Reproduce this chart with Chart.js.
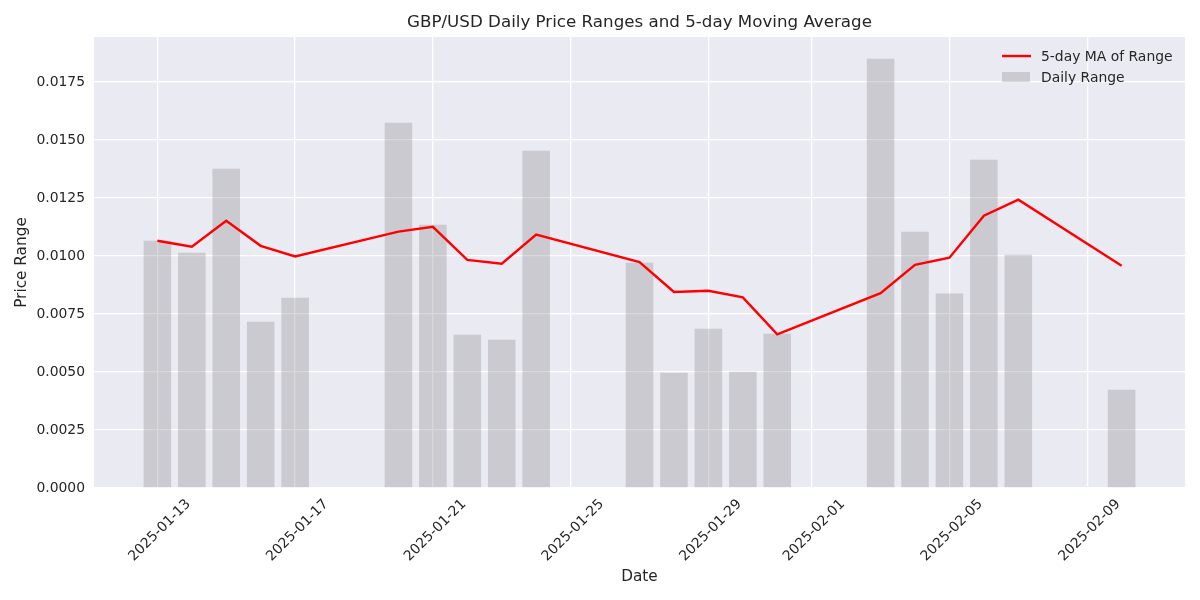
<!DOCTYPE html>
<html>
<head>
<meta charset="utf-8">
<script src="https://cdn.jsdelivr.net/npm/chart.js@4/dist/chart.umd.min.js"></script>
<style>
  body { margin: 0; background: #fff; }
  #wrap { width: 1200px; height: 600px; }
</style>
</head>
<body>
<div id="wrap"><canvas id="rangeChart" width="1200" height="600"></canvas></div>
<script>
// trading days shown in the chart
let dates = ['2025-01-13', '2025-01-14', '2025-01-15', '2025-01-16', '2025-01-17',
  '2025-01-20', '2025-01-21', '2025-01-22', '2025-01-23', '2025-01-24',
  '2025-01-27', '2025-01-28', '2025-01-29', '2025-01-30', '2025-01-31',
  '2025-02-03', '2025-02-04', '2025-02-05', '2025-02-06', '2025-02-07',
  '2025-02-10'];

let dailyRange = [0.01066, 0.01014, 0.01376, 0.00717, 0.00820,
  0.01575, 0.01135, 0.00661, 0.00639, 0.01454,
  0.00971, 0.00497, 0.00687, 0.00501, 0.00665,
  0.01850, 0.01105, 0.00838, 0.01415, 0.01006,
  0.00424];

let maRange = [0.01066, 0.01040, 0.01152, 0.01044, 0.00998,
  0.01105, 0.01126, 0.00983, 0.00967, 0.01092,
  0.00974, 0.00845, 0.00850, 0.00822, 0.00662,
  0.00840, 0.00962, 0.00993, 0.01174, 0.01243,
  0.00958];

let xTickLabels = ['2025-01-13', '2025-01-17', '2025-01-21', '2025-01-25',
  '2025-01-29', '2025-02-01', '2025-02-05', '2025-02-09'];
let yTicks = [0, 0.0025, 0.005, 0.0075, 0.01, 0.0125, 0.015, 0.0175];

const textColor = '#262626';
const DAY = 86400000;
const base = Date.parse(dates[0]);
function dayOf(d) {
  return Math.round((Date.parse(d) - base) / DAY);
}
let xTickValues = xTickLabels.map(dayOf);

Chart.defaults.font.family = "'DejaVu Sans', sans-serif";
Chart.defaults.color = textColor;

const plotBg = {
  id: 'plotBg',
  beforeDraw(chart) {
    const {ctx, chartArea: a} = chart;
    ctx.save();
    ctx.fillStyle = '#eaeaf2';
    ctx.fillRect(a.left, a.top, a.right - a.left, a.bottom - a.top);
    ctx.restore();
  }
};

// matplotlib style legend, top right, no frame
const cornerLegend = {
  id: 'cornerLegend',
  afterDraw(chart) {
    const {ctx, chartArea: a} = chart;
    const ds = chart.data.datasets;
    const x0 = a.right - 183;
    let y = a.top + 19;
    ctx.save();
    ctx.font = '13.9px "DejaVu Sans"';
    ctx.textBaseline = 'middle';
    ctx.fillStyle = textColor;
    ds.forEach(d => {
      if (d.type === 'line') {
        ctx.strokeStyle = d.borderColor;
        ctx.lineWidth = d.borderWidth;
        ctx.beginPath();
        ctx.moveTo(x0, y);
        ctx.lineTo(x0 + 29, y);
        ctx.stroke();
      } else {
        ctx.fillStyle = d.backgroundColor;
        ctx.fillRect(x0, y - 5, 28, 10);
      }
      ctx.fillStyle = textColor;
      ctx.fillText(d.label, x0 + 39, y + 1);
      y += 21;
    });
    ctx.restore();
  }
};

let chart = new Chart(document.getElementById('rangeChart'), {
  type: 'bar',
  data: {
    datasets: [{
      type: 'line',
      label: '5-day MA of Range',
      data: dates.map((d, i) => ({x: dayOf(d), y: maRange[i]})),
      borderColor: '#ff0000',
      borderWidth: 2.4,
      pointRadius: 0,
      tension: 0,
      order: 0
    }, {
      type: 'bar',
      label: 'Daily Range',
      data: dates.map((d, i) => ({x: dayOf(d), y: dailyRange[i]})),
      backgroundColor: 'rgba(128,128,128,0.3)',
      barPercentage: 0.8,
      categoryPercentage: 1.0,
      order: 1
    }]
  },
  options: {
    responsive: false,
    animation: false,
    layout: { padding: { left: 0, right: 15, top: 0, bottom: 0 } },
    plugins: {
      legend: { display: false },
      tooltip: { enabled: false },
      title: {
        display: true,
        text: 'GBP/USD Daily Price Ranges and 5-day Moving Average',
        fullSize: false,
        color: textColor,
        font: { size: 16.7, weight: 'normal' },
        padding: { top: 13, bottom: 4 }
      }
    },
    scales: {
      x: {
        type: 'linear',
        min: -1.84,
        max: 29.84,
        offset: false,
        grid: { color: '#ffffff', lineWidth: 1.3, drawTicks: false, offset: false },
        border: { display: false },
        afterBuildTicks: (scale) => {
          scale.ticks = xTickValues.map(v => ({value: v}));
        },
        afterFit: (scale) => { scale.height = 112; },
        ticks: {
          autoSkip: false,
          minRotation: 45,
          maxRotation: 45,
          padding: 8,
          labelOffset: 31,
          color: textColor,
          font: { size: 13.9 },
          callback: (v) => {
            const i = xTickValues.indexOf(v);
            return i >= 0 ? xTickLabels[i] : '';
          }
        },
        title: {
          display: true,
          text: 'Date',
          color: textColor,
          font: { size: 15.3 },
          padding: { top: 0, bottom: 14 }
        }
      },
      y: {
        min: 0,
        max: 0.01944,
        grid: { color: '#ffffff', lineWidth: 1.3, drawTicks: false },
        border: { display: false },
        afterBuildTicks: (scale) => {
          scale.ticks = yTicks.map(v => ({value: v}));
        },
        afterFit: (scale) => { scale.width = 94; },
        ticks: {
          padding: 9,
          color: textColor,
          font: { size: 13.9 },
          callback: (v) => v.toFixed(4)
        },
        title: {
          display: true,
          text: 'Price Range',
          color: textColor,
          font: { size: 15.3 },
          padding: { top: 13, bottom: 0 }
        }
      }
    }
  },
  plugins: [plotBg, cornerLegend]
});
</script>
</body>
</html>
